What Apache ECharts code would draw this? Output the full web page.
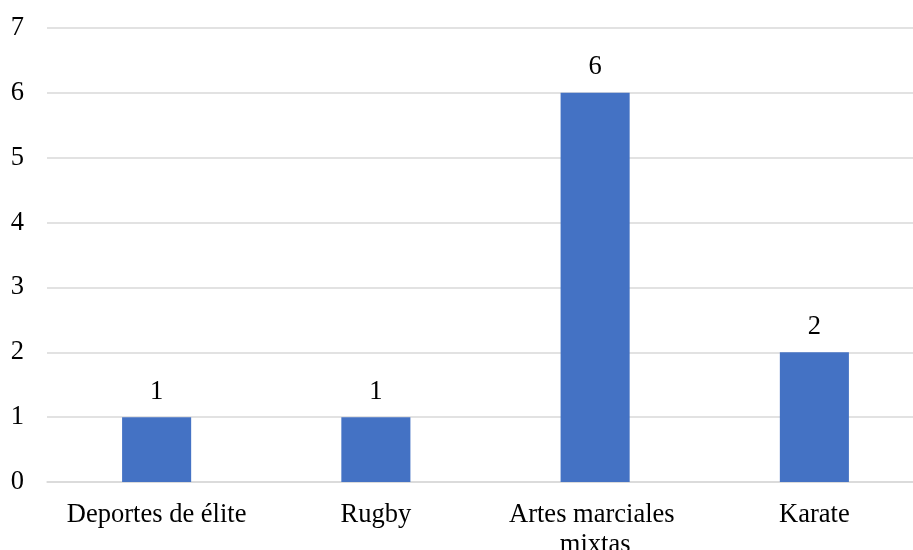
<!DOCTYPE html>
<html>
<head>
<meta charset="utf-8">
<script src="https://cdn.jsdelivr.net/npm/echarts@6/dist/echarts.min.js"></script>
<style>
  html, body { margin: 0; padding: 0; background: #fff; }
  #chart { width: 913px; height: 550px; }
</style>
</head>
<body>
<div id="chart"></div>
<script>
// categories and counts
const categories = ['Deportes de élite', 'Rugby', 'Artes marciales mixtas', 'Karate'];
const counts = [1, 1, 6, 2];
const yMin = 0;
const yMax = 7;
const yStep = 1;

const fontFamily = '"Liberation Serif", "Times New Roman", serif';

const chart = echarts.init(document.getElementById('chart'));

const option = {
    animation: false,
    backgroundColor: '#ffffff',
    grid: {
        top: 28,
        bottom: 68,
        left: 47,
        right: -11,
        containLabel: false,
        outerBoundsMode: 'none'
    },
    xAxis: {
        type: 'category',
        data: categories,
        axisLine: { show: true, lineStyle: { color: '#d9d9d9', width: 1.5 } },
        axisTick: { show: false },
        axisLabel: {
            color: '#000',
            fontFamily: fontFamily,
            fontSize: 26.5,
            lineHeight: 30,
            margin: 18,
            width: 205,
            overflow: 'break',
            interval: 0
        }
    },
    yAxis: {
        type: 'value',
        min: yMin,
        max: yMax,
        interval: yStep,
        axisLine: { show: false },
        axisTick: { show: false },
        splitLine: { lineStyle: { color: '#d9d9d9', width: 1.5 } },
        axisLabel: {
            color: '#000',
            fontFamily: fontFamily,
            fontSize: 26.5,
            margin: 23
        }
    },
    series: [
        {
            type: 'bar',
            data: counts,
            barWidth: '31.5%',
            itemStyle: { color: '#4472c4' },
            label: {
                show: true,
                position: 'top',
                distance: 12,
                color: '#000',
                fontFamily: fontFamily,
                fontSize: 26.5
            }
        }
    ]
};

chart.setOption(option);

window.addEventListener('resize', function () {
    chart.resize();
});
</script>
</body>
</html>
